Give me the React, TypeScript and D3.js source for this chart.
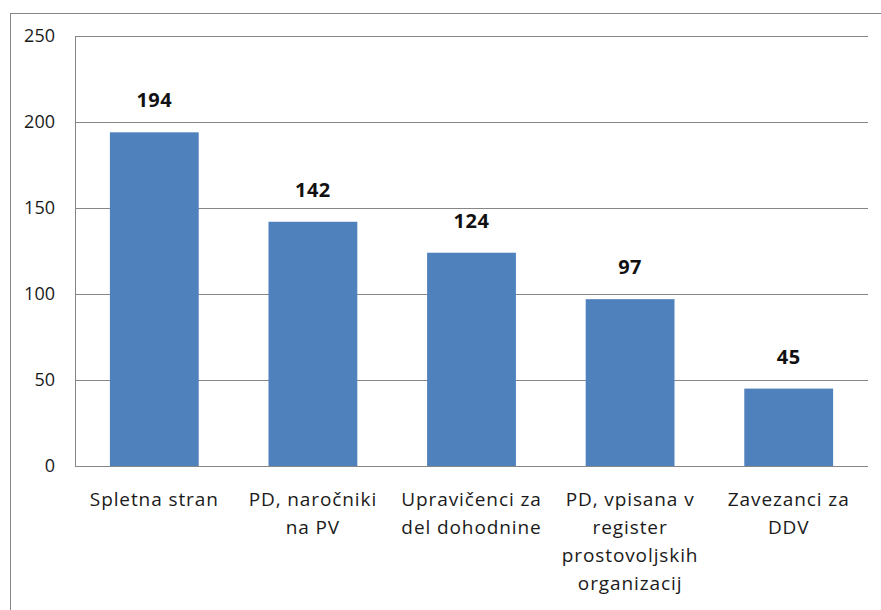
import React, { useEffect, useRef } from 'react';
import * as d3 from 'd3';

const categories = [
  ['Spletna stran'],
  ['PD, naročniki', 'na PV'],
  ['Upravičenci za', 'del dohodnine'],
  ['PD, vpisana v', 'register', 'prostovoljskih', 'organizacij'],
  ['Zavezanci za', 'DDV'],
];
const values = [194, 142, 124, 97, 45];
const yTicks = [0, 50, 100, 150, 200, 250];

const App: React.FC = () => {
  const ref = useRef<SVGSVGElement>(null);

  useEffect(() => {
    if (!ref.current) return;
    const svg = d3.select(ref.current);
    svg.selectAll('*').remove();

    const font = '"Open Sans", Lato, sans-serif';
    const left = 75;
    const right = 868;
    const top = 36;
    const bottom = 466;

    // outer chart border
    svg.append('rect')
      .attr('x', 10.5)
      .attr('y', 13.5)
      .attr('width', 900)
      .attr('height', 700)
      .attr('fill', 'white')
      .attr('stroke', '#868686')
      .attr('stroke-width', 1);

    const x = d3.scaleBand<number>()
      .domain(d3.range(values.length))
      .range([left, right])
      .paddingInner(0.44)
      .paddingOuter(0.22);

    const y = d3.scaleLinear().domain([0, 250]).range([bottom, top]);

    // gridlines
    svg.append('g')
      .selectAll('line')
      .data(yTicks.filter(t => t > 0))
      .enter()
      .append('line')
      .attr('x1', left)
      .attr('x2', right)
      .attr('y1', d => Math.round(y(d)) + 0.5)
      .attr('y2', d => Math.round(y(d)) + 0.5)
      .attr('stroke', '#868686')
      .attr('stroke-width', 1);

    // y tick labels
    svg.append('g')
      .selectAll('text')
      .data(yTicks)
      .enter()
      .append('text')
      .attr('x', 55)
      .attr('y', d => y(d))
      .attr('dy', '0.35em')
      .attr('text-anchor', 'end')
      .attr('font-family', font)
      .attr('font-size', '18px')
      .attr('fill', '#1a1a1a')
      .text(d => d);

    // bars
    svg.append('g')
      .selectAll('rect')
      .data(values)
      .enter()
      .append('rect')
      .attr('x', (d, i) => x(i)!)
      .attr('y', d => y(d))
      .attr('width', x.bandwidth())
      .attr('height', d => y(0) - y(d))
      .attr('fill', '#4F81BD');

    // value labels
    svg.append('g')
      .selectAll('text')
      .data(values)
      .enter()
      .append('text')
      .attr('x', (d, i) => x(i)! + x.bandwidth() / 2)
      .attr('y', d => y(d) - 25)
      .attr('text-anchor', 'middle')
      .attr('font-family', font)
      .attr('font-size', '20px')
      .attr('letter-spacing', '0.5px')
      .attr('font-weight', 'bold')
      .attr('fill', '#111')
      .text(d => d);

    // axes lines
    svg.append('line')
      .attr('x1', left + 0.5).attr('x2', left + 0.5)
      .attr('y1', top).attr('y2', bottom)
      .attr('stroke', '#868686');
    svg.append('line')
      .attr('x1', left).attr('x2', right)
      .attr('y1', bottom + 0.5).attr('y2', bottom + 0.5)
      .attr('stroke', '#868686');

    // category labels
    const cat = svg.append('g')
      .selectAll('text')
      .data(categories)
      .enter()
      .append('text')
      .attr('text-anchor', 'middle')
      .attr('font-family', font)
      .attr('font-size', '19px')
      .attr('letter-spacing', '0.9px')
      .attr('fill', '#1a1a1a');
    cat.each(function (lines, i) {
      const t = d3.select(this);
      lines.forEach((ln, j) => {
        t.append('tspan')
          .attr('x', x(i)! + x.bandwidth() / 2)
          .attr('y', 506 + j * 28)
          .text(ln);
      });
    });
  }, []);

  return (
    <svg
      ref={ref}
      width={881}
      height={610}
      style={{ position: 'absolute', left: 0, top: 0, display: 'block' }}
    />
  );
};

export default App;
